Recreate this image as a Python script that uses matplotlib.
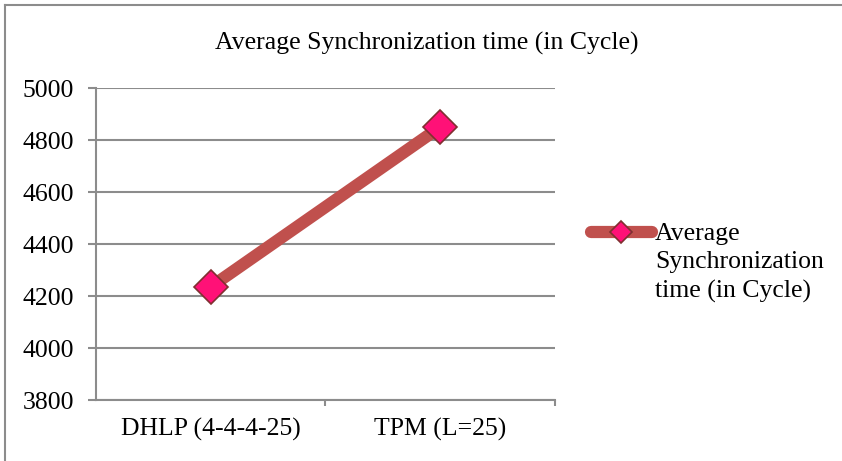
import matplotlib.pyplot as plt
from matplotlib.lines import Line2D

# datos
categorias = ['DHLP (4-4-4-25)', 'TPM (L=25)']
tiempos = [4235, 4850]
serie = 'Average\nSynchronization\ntime (in Cycle)'
titulo = 'Average Synchronization time (in Cycle)'
yticks = [3800, 4000, 4200, 4400, 4600, 4800, 5000]

plt.rcParams['font.family'] = ['Liberation Serif', 'DejaVu Serif']
gris = '#8c8c8c'
fs = 18.5

fig = plt.figure(figsize=(8.42, 4.61), dpi=100)
ax = fig.add_axes([0.114, 0.1323, 0.545, 0.6767])

x = list(range(len(categorias)))
ax.plot(x, tiempos, color='#c0504d', linewidth=8.8, solid_capstyle='butt',
        marker='D', markersize=17, markerfacecolor='#ff1177',
        markeredgecolor='#7f3030', markeredgewidth=1.2, label=serie, zorder=3)

ax.set_xlim(-0.5, len(categorias) - 0.5)
ax.set_ylim(3800, 5000)
ax.set_yticks(yticks)
ax.set_xticks(x)
ax.set_xticklabels(categorias)
ax.set_xticks([0.5, 1.5], minor=True)

ax.grid(axis='y', color=gris, linewidth=1.5)
ax.set_axisbelow(True)
for lado in ['top', 'right']:
    ax.spines[lado].set_visible(False)
for lado in ['left', 'bottom']:
    ax.spines[lado].set_color(gris)
    ax.spines[lado].set_linewidth(1.5)
ax.tick_params(axis='y', length=6, width=1.5, color=gris, labelsize=fs, pad=10)
ax.tick_params(axis='x', which='major', length=0, labelsize=fs, pad=13)
ax.tick_params(axis='x', which='minor', length=4, width=1.5, color=gris)

fig.text(0.507, 0.906, titulo, ha='center', va='center', fontsize=fs)

leg = fig.legend(loc='center left', bbox_to_anchor=(0.674, 0.43), frameon=False,
                 fontsize=fs, handlelength=2.4, handletextpad=0.1,
                 labelspacing=0.3)
leg.get_texts()[0].set_linespacing(1.38)
leg.legend_handles[0].set_markersize(11)
leg.legend_handles[0].set_solid_capstyle('round')
for vp in leg._legend_handle_box.get_children():
    for hp in vp.get_children():
        hp.align = 'top'

# borde del gráfico (solo izquierda y arriba)
fig.add_artist(Line2D([0.006, 0.006], [0, 0.99], transform=fig.transFigure,
                      color=gris, linewidth=1.5))
fig.add_artist(Line2D([0.006, 1.0], [0.99, 0.99], transform=fig.transFigure,
                      color=gris, linewidth=1.5))

fig.savefig('out.png', dpi=100)
